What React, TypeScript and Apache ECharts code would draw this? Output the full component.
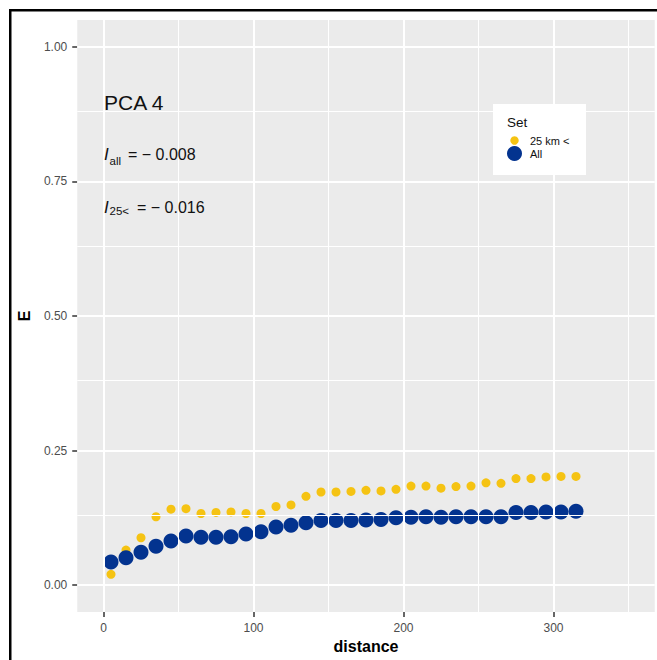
import React, { useEffect, useRef } from "react";
import * as echarts from "echarts";

// Distance classes (km) and the E statistic for each subset
const distance = [5, 15, 25, 35, 45, 55, 65, 75, 85, 95, 105, 115, 125, 135, 145, 155, 165, 175, 185, 195, 205, 215, 225, 235, 245, 255, 265, 275, 285, 295, 305, 315];
const e25km = [0.02, 0.065, 0.088, 0.127, 0.141, 0.142, 0.133, 0.135, 0.136, 0.133, 0.133, 0.146, 0.149, 0.165, 0.173, 0.173, 0.174, 0.176, 0.175, 0.178, 0.184, 0.184, 0.18, 0.183, 0.184, 0.19, 0.189, 0.198, 0.198, 0.201, 0.202, 0.202];
const eAll = [0.043, 0.051, 0.061, 0.072, 0.082, 0.091, 0.089, 0.089, 0.09, 0.095, 0.099, 0.108, 0.111, 0.116, 0.12, 0.12, 0.12, 0.121, 0.122, 0.125, 0.126, 0.127, 0.126, 0.127, 0.127, 0.127, 0.127, 0.135, 0.135, 0.136, 0.136, 0.137];

const xTicks = [0, 100, 200, 300];
const xMinor = [50, 150, 250, 350];
const yTicks = [0, 0.25, 0.5, 0.75, 1];
const yMinor = [0.125, 0.375, 0.625, 0.875];

const seriesNames = ["25 km <", "All"];
const YELLOW = "#F5C313";
const BLUE = "#03338F";
const FONT = "'Liberation Sans', Arial, sans-serif";

export default function App() {
  const ref = useRef<HTMLDivElement>(null);

  useEffect(() => {
    if (!ref.current) return;
    const chart = echarts.init(ref.current, undefined, { renderer: "svg" });

    const gridLines = [
      ...xTicks.map((v) => ({ xAxis: v, lineStyle: { width: 2 } })),
      ...xMinor.map((v) => ({ xAxis: v, lineStyle: { width: 1 } })),
      ...yTicks.map((v) => ({ yAxis: v, lineStyle: { width: 2 } })),
      ...yMinor.map((v) => ({ yAxis: v, lineStyle: { width: 1 } })),
    ];

    chart.setOption({
      animation: false,
      backgroundColor: "#ffffff",
      textStyle: { fontFamily: FONT },
      grid: {
        left: 77.25,
        top: 20,
        right: 2.25,
        bottom: 48,
        show: true,
        backgroundColor: "#EBEBEB",
        borderWidth: 0,
      },
      xAxis: {
        type: "value",
        min: -17.5,
        max: 367.5,
        splitLine: { show: false },
        axisLine: { show: true, onZero: false, lineStyle: { opacity: 0 } },
        axisTick: {
          show: true,
          customValues: xTicks,
          length: 5,
          lineStyle: { color: "#333333", width: 1.5, opacity: 1 },
        },
        axisLabel: {
          customValues: xTicks,
          color: "#4D4D4D",
          fontSize: 12,
          margin: 10,
          fontFamily: FONT,
        },
        name: "distance",
        nameLocation: "middle",
        nameGap: 24,
        nameTextStyle: { fontWeight: "bold", fontSize: 16, color: "#000", fontFamily: FONT },
      },
      yAxis: {
        type: "value",
        min: -0.05,
        max: 1.05,
        splitLine: { show: false },
        axisLine: { show: true, onZero: false, lineStyle: { opacity: 0 } },
        axisTick: {
          show: true,
          customValues: yTicks,
          length: 5,
          lineStyle: { color: "#333333", width: 1.5, opacity: 1 },
        },
        axisLabel: {
          customValues: yTicks,
          color: "#4D4D4D",
          fontSize: 12,
          margin: 10,
          fontFamily: FONT,
          formatter: (v: number) => v.toFixed(2),
        },
        name: "E",
        nameLocation: "middle",
        nameRotate: 90,
        nameGap: 34,
        nameTextStyle: { fontWeight: "bold", fontSize: 16, color: "#000", fontFamily: FONT },
      },
      series: [
        {
          type: "scatter",
          data: [],
          silent: true,
          z: 1,
          markLine: {
            silent: true,
            symbol: ["none", "none"],
            label: { show: false },
            lineStyle: { color: "#FFFFFF", type: "solid" },
            emphasis: { disabled: true },
            data: gridLines,
          },
        },
        {
          name: seriesNames[0],
          type: "scatter",
          data: distance.map((d, i) => [d, e25km[i]]),
          symbolSize: 9,
          itemStyle: { color: YELLOW, opacity: 1 },
          z: 3,
        },
        {
          name: seriesNames[1],
          type: "scatter",
          data: distance.map((d, i) => [d, eAll[i]]),
          symbolSize: 15,
          itemStyle: { color: BLUE, opacity: 1 },
          z: 4,
        },
      ],
      graphic: [
        // outer frame
        { type: "rect", shape: { x: 9, y: 9, width: 2.5, height: 651 }, style: { fill: "#000" }, z: 100 },
        { type: "rect", shape: { x: 9, y: 9, width: 648, height: 2.5 }, style: { fill: "#000" }, z: 100 },
        // panel annotations
        {
          type: "text",
          x: 104,
          y: 102.5,
          style: { text: "PCA 4", fontSize: 21, fill: "#111", fontFamily: FONT, verticalAlign: "middle" },
          z: 50,
        },
        {
          type: "text",
          x: 104,
          y: 154,
          style: { text: "I", fontSize: 17, fontStyle: "italic", fill: "#111", fontFamily: FONT, verticalAlign: "middle" },
          z: 50,
        },
        {
          type: "text",
          x: 109.5,
          y: 161,
          style: { text: "all", fontSize: 11.5, fill: "#111", fontFamily: FONT, verticalAlign: "middle" },
          z: 50,
        },
        {
          type: "text",
          x: 128,
          y: 154,
          style: { text: "= \u2212 0.008", fontSize: 16, fill: "#111", fontFamily: FONT, verticalAlign: "middle" },
          z: 50,
        },
        {
          type: "text",
          x: 104,
          y: 207.5,
          style: { text: "I", fontSize: 17, fontStyle: "italic", fill: "#111", fontFamily: FONT, verticalAlign: "middle" },
          z: 50,
        },
        {
          type: "text",
          x: 109.5,
          y: 211,
          style: { text: "25<", fontSize: 11.5, fill: "#111", fontFamily: FONT, verticalAlign: "middle" },
          z: 50,
        },
        {
          type: "text",
          x: 137,
          y: 207.5,
          style: { text: "= \u2212 0.016", fontSize: 16, fill: "#111", fontFamily: FONT, verticalAlign: "middle" },
          z: 50,
        },
        // legend box
        { type: "rect", shape: { x: 493, y: 104, width: 93, height: 71 }, style: { fill: "#FFFFFF" }, z: 50 },
        {
          type: "text",
          x: 507,
          y: 122,
          style: { text: "Set", fontSize: 13.5, fill: "#111", fontFamily: FONT, verticalAlign: "middle" },
          z: 51,
        },
        { type: "circle", shape: { cx: 514.5, cy: 140.5, r: 4.2 }, style: { fill: YELLOW }, z: 51 },
        {
          type: "text",
          x: 530,
          y: 141,
          style: { text: seriesNames[0], fontSize: 11, fill: "#111", fontFamily: FONT, verticalAlign: "middle" },
          z: 51,
        },
        { type: "circle", shape: { cx: 514.5, cy: 153.5, r: 7.5 }, style: { fill: BLUE }, z: 51 },
        {
          type: "text",
          x: 530,
          y: 154,
          style: { text: seriesNames[1], fontSize: 11, fill: "#111", fontFamily: FONT, verticalAlign: "middle" },
          z: 51,
        },
      ],
    });

    return () => chart.dispose();
  }, []);

  return (
    <div
      ref={ref}
      style={{ position: "absolute", left: 0, top: 0, width: 657, height: 660, background: "#fff" }}
    />
  );
}
